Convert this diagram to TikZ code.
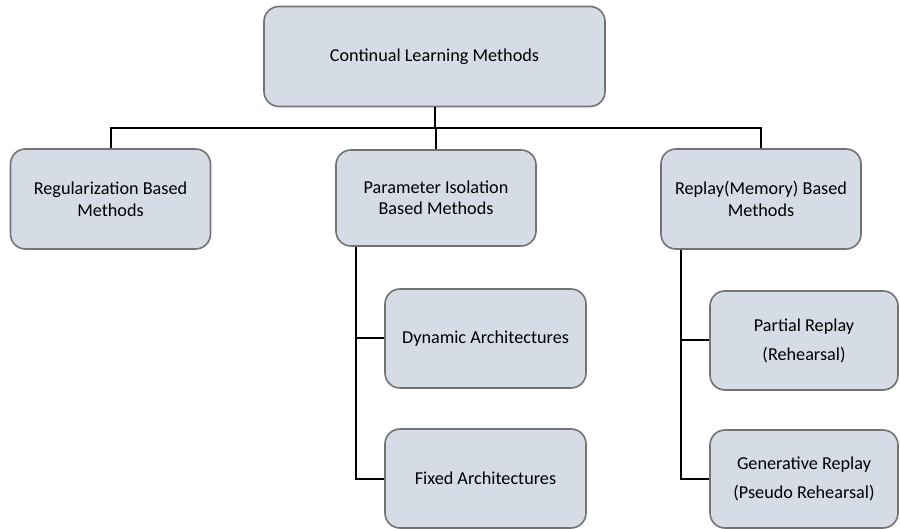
\documentclass[tikz,border=0pt]{standalone}
\usepackage{fontspec}
\setmainfont{Carlito}
\begin{document}
\begin{tikzpicture}[x=1pt,y=-1pt,
  box/.style={draw=black!55, line width=1.6pt, fill={rgb,255:red,214;green,220;blue,229},
    rounded corners=15pt, inner sep=0pt, align=center, font=\fontsize{18.2}{21.5}\selectfont},
  wide/.style={font=\fontsize{18.2}{29}\selectfont},
  link/.style={draw=black, line width=2pt}]
\useasboundingbox (0,0) rectangle (900,529);
% boxes, placed by their centres
\node[box, minimum width=341pt, minimum height=100pt] (clm) at (434.5,56.5) {Continual Learning Methods};
\node[box, minimum width=200pt, minimum height=100pt] (reg) at (110.5,199) {Regularization Based\\Methods};
\node[box, minimum width=200pt, minimum height=96pt] (pib) at (436,198) {Parameter Isolation\\Based Methods};
\node[box, minimum width=200pt, minimum height=100pt] (rmb) at (761,199) {Replay(Memory) Based\\Methods};
\node[box, minimum width=201pt, minimum height=99pt] (dyn) at (485.5,338.5) {Dynamic Architectures};
\node[box, minimum width=201pt, minimum height=99pt] (fix) at (485.5,478.5) {Fixed Architectures};
\node[box, wide, minimum width=188pt, minimum height=99pt] (par) at (804,340.5) {Partial Replay\\(Rehearsal)};
\node[box, wide, minimum width=188pt, minimum height=98pt] (gen) at (804,479) {Generative Replay\\(Pseudo Rehearsal)};
% tree connectors
\coordinate (bus) at (0,128);
\draw[link] (clm.south) -- (clm.south |- bus);
\draw[link] (reg.north) |- (clm.south |- bus) -| (rmb.north);
\draw[link] (pib.north) -- (pib.north |- bus);
\coordinate (pl) at (356,0);
\coordinate (rl) at (681,0);
\draw[link] (pl |- pib.south) |- (dyn.west);
\draw[link] (pl |- dyn.west) |- (fix.west);
\draw[link] (rl |- rmb.south) |- (par.west);
\draw[link] (rl |- par.west) |- (gen.west);
\end{tikzpicture}
\end{document}
